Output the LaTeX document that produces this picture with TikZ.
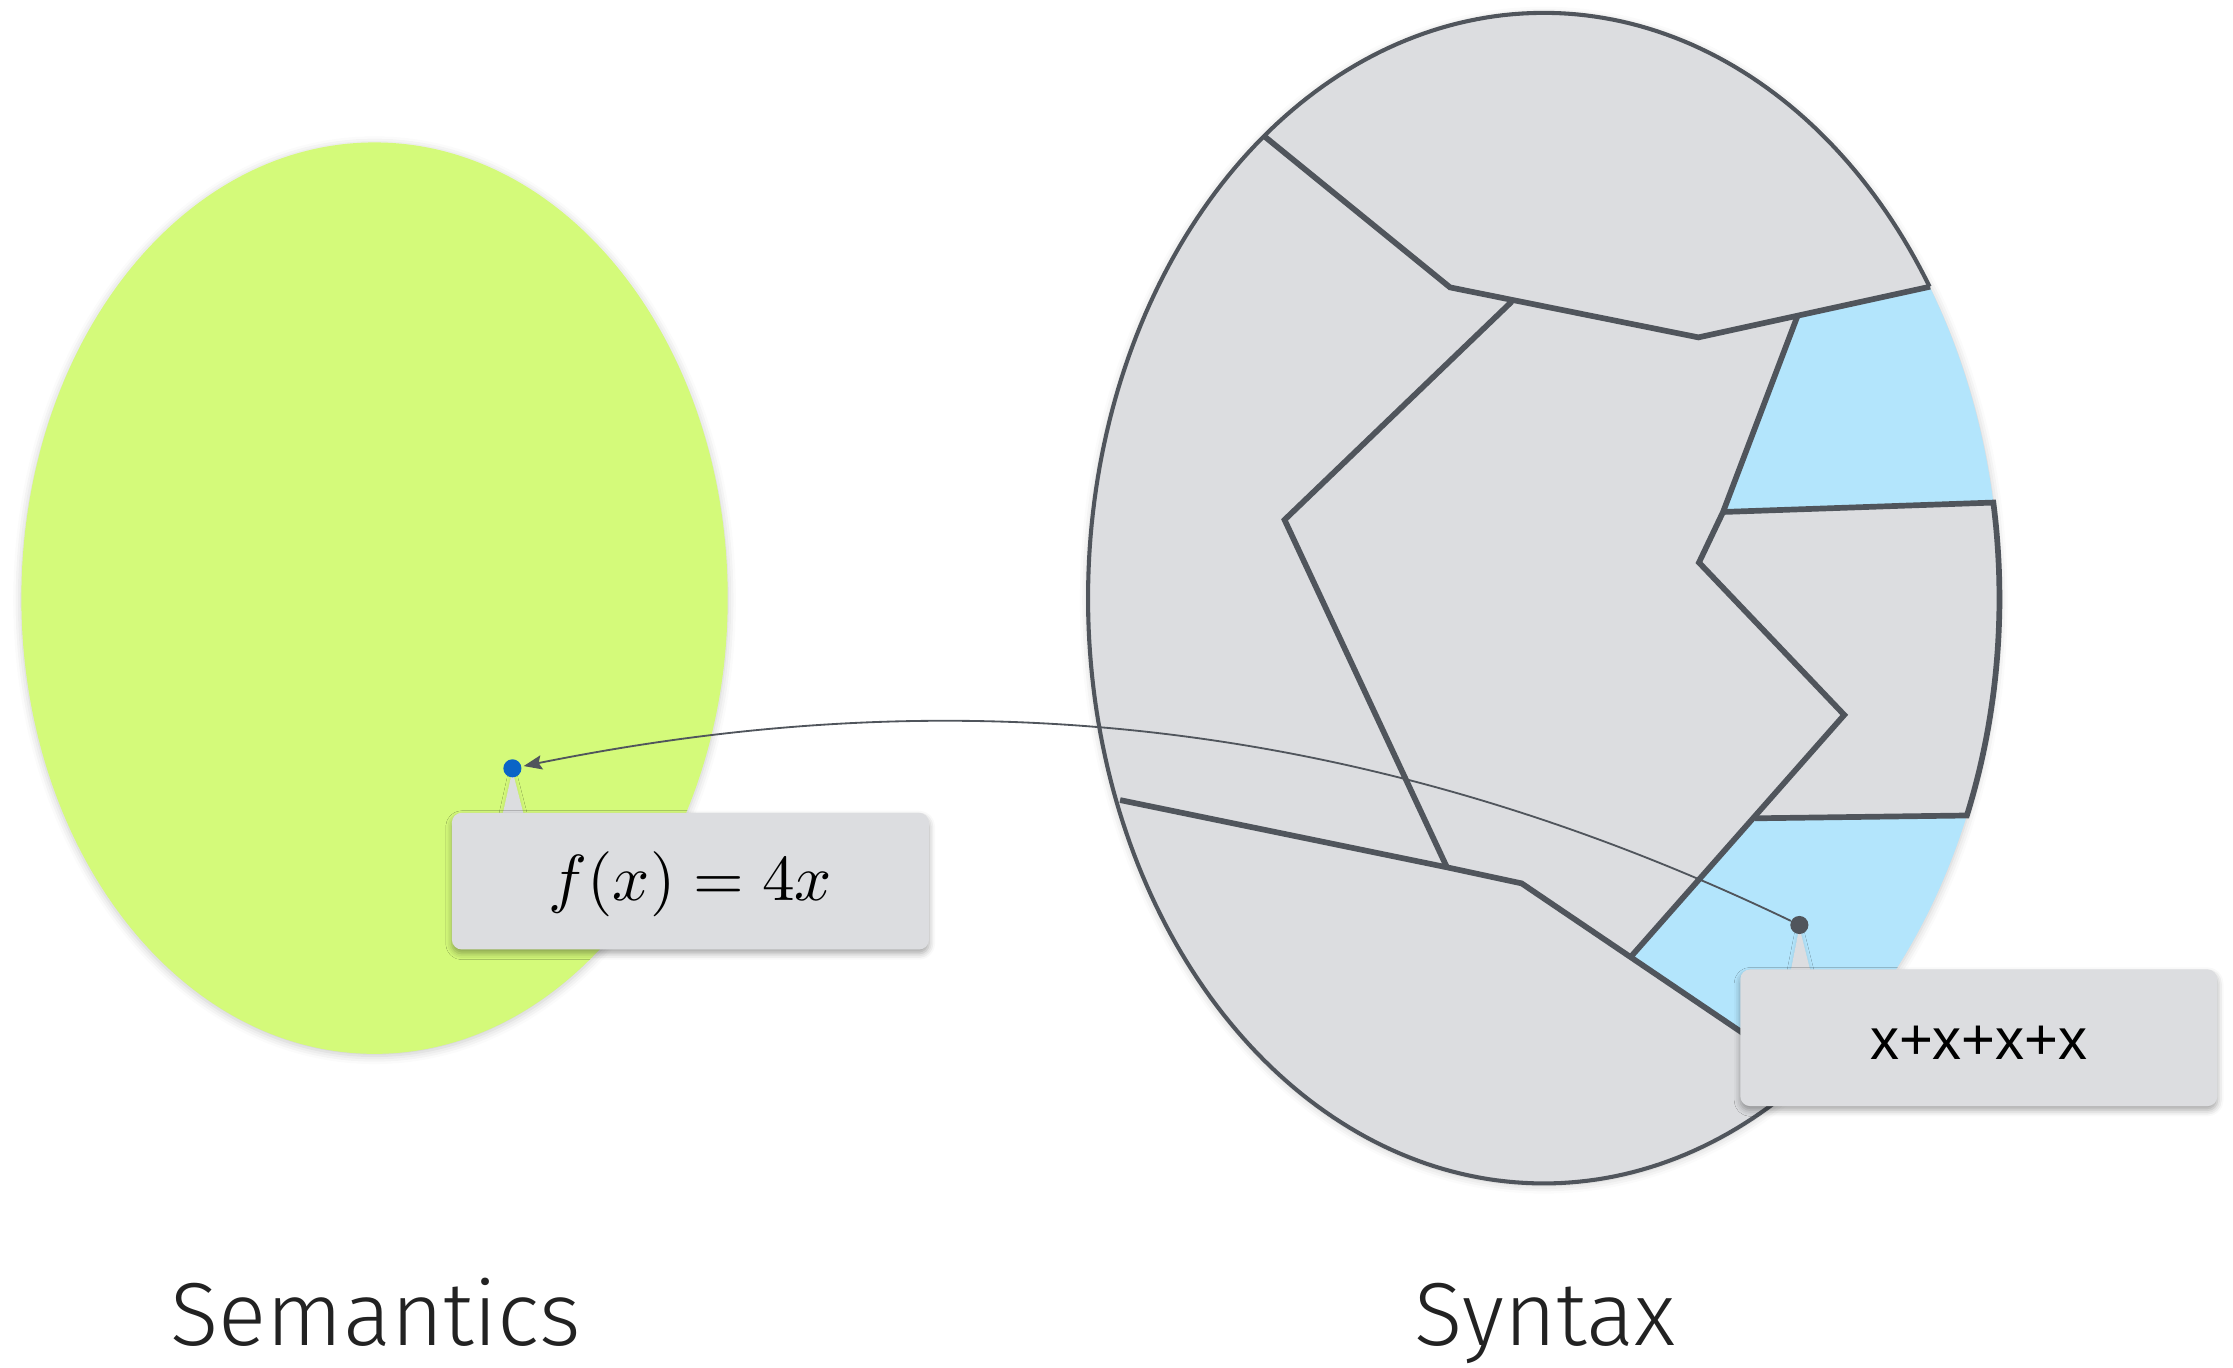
\documentclass[tikz,border=0pt]{standalone}
\usepackage{fontspec}
\newfontfamily\lightsans{Fira Sans Light}
\newfontfamily\boxsans{Liberation Sans}
\usetikzlibrary{arrows.meta,shadows.blur}
\definecolor{semgreen}{HTML}{D4FA7A}
\definecolor{syngray}{HTML}{DCDDE0}
\definecolor{synblue}{HTML}{B3E5FC}
\definecolor{edgegray}{HTML}{50555C}
\definecolor{dotblue}{HTML}{0A64C6}
\definecolor{labelink}{HTML}{222222}
\tikzset{
  softshadow/.style={blur shadow={shadow xshift=0pt, shadow yshift=-1pt, shadow blur radius=4pt, shadow opacity=22}},
  boxshadow/.style={blur shadow={shadow xshift=0pt, shadow yshift=-2pt, shadow blur radius=3pt, shadow opacity=35}},
  tipshadow/.style={blur shadow={shadow xshift=0pt, shadow yshift=-1pt, shadow blur radius=2pt, shadow opacity=15}},
  region/.style={line width=2.8pt, draw=edgegray, line join=miter},
  rim/.style={line width=2pt, draw=edgegray},
  callbox/.style={fill=syngray, rounded corners=4.9pt, minimum width=234.5pt, minimum height=67.2pt, inner sep=0pt, boxshadow},
  pointer/.style={fill=syngray, tipshadow},
  dotnode/.style={circle, inner sep=0pt, minimum size=8.9pt},
  arrowline/.style={draw=edgegray, line width=0.9pt, -{Stealth[length=9pt,width=7pt,inset=1.5pt]}, shorten >=1pt},
  biglabel/.style={font=\lightsans\fontsize{44}{52}\selectfont, text=labelink, anchor=base, inner sep=0pt}
}
\begin{document}
\begin{tikzpicture}[x=0.7pt,y=-0.7pt]
\useasboundingbox (0,0) rectangle (1568,960);
% semantics ellipse
\path[fill=semgreen, softshadow] (263,420) ellipse [x radius=173.6pt, y radius=224pt];
% syntax ellipse fill
\path[fill=syngray, softshadow] (1084,420) ellipse [x radius=224pt, y radius=287.7pt];
% blue regions
\fill[synblue] (1261.9,222.6) -- (1355.3,201.3)
  -- plot[domain=32.15:9.4, samples=40] ({1084+320*cos(\x)}, {420-411*sin(\x)})
  -- (1209.9,359.5) -- cycle;
\fill[synblue] (1145,672) -- (1232.4,574.6) -- (1381,573)
  -- plot[domain=-21.8:-54.7, samples=40] ({1084+320*cos(\x)}, {420-411*sin(\x)})
  -- cycle;
% rim of the syntax ellipse
\draw[rim] plot[domain=32.15:305.3, samples=240] ({1084+320*cos(\x)}, {420-411*sin(\x)});
% region boundaries
\draw[region] (888.3,96.1) -- (1018.2,201.8) -- (1192.6,236.9) -- (1355.3,201.3);
\draw[region] (1061.5,211.8) -- (902,365) -- (1016,609);
\draw[region] (786.5,561.8) -- (1016,609) -- (1068.5,620.3) -- (1269,756);
\draw[region] (1261.9,222.6) -- (1209.9,359.5) -- (1193,395) -- (1295,502) -- (1145,672);
\draw[region] (1209.9,359.5)
  -- plot[domain=9.4:-21.8, samples=40] ({1084+320*cos(\x)}, {420-411*sin(\x)})
  -- (1232.4,574.6);
% callouts
\fill[pointer] (351.1,580) -- (359.8,541) -- (369.8,580) -- cycle;
\node[callbox] (box1) at (484.8,618.7) {};
\fill[pointer] (1255.8,690) -- (1263.5,651) -- (1273.3,690) -- cycle;
\node[callbox] (box2) at (1389.5,728.7) {};
\node[scale=3.2, inner sep=0pt] (fx) at (484.8,620.9) {$f(x)=4x$};
\node[font=\boxsans\fontsize{28.5}{34}\selectfont, inner sep=0pt] (xs) at (1389.5,732) {x+x+x+x};
% dots
\node[dotnode, fill=dotblue] (bdot) at (359.8,539.5) {};
\node[dotnode, fill=edgegray] (ddot) at (1263.5,649.5) {};
% mapping arrow
\draw[arrowline] (ddot) .. controls (913.5,481.5) and (617.5,487.5) .. (bdot);
% labels
\node[biglabel] (semlabel) at (264,945) {Semantics};
\node[biglabel] (synlabel) at (1085,945) {Syntax};
\end{tikzpicture}
\end{document}
